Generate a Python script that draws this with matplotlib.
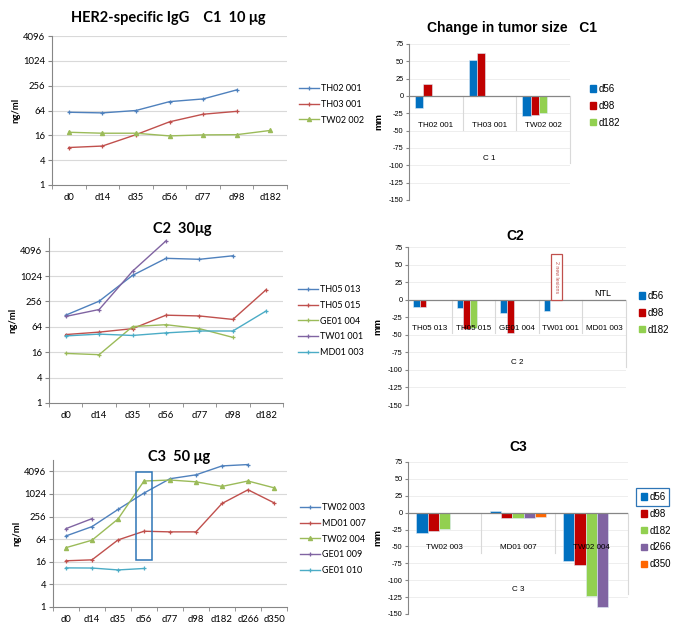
import numpy as np
import matplotlib
matplotlib.use("Agg")
import matplotlib.pyplot as plt
from matplotlib.patches import Rectangle

nan = np.nan

# ---- IgG data (ng/ml) ----
c1_days = ['d0', 'd14', 'd35', 'd56', 'd77', 'd98', 'd182']
c1_names = ['TH02 001', 'TH03 001', 'TW02 002']
c1_th02_001 = [58, 56, 64, 105, 122, 202, nan]
c1_th03_001 = [8.1, 8.8, 16.6, 34, 52, 61, nan]
c1_tw02_002 = [19, 18, 18, 15.5, 16.4, 16.6, 21]

c2_days = ['d0', 'd14', 'd35', 'd56', 'd77', 'd98', 'd182']
c2_names = ['TH05 013', 'TH05 015', 'GE01 004', 'TW01 001', 'MD01 003']
c2_th05_013 = [121, 260, 1065, 2700, 2560, 3100, nan]
c2_th05_015 = [42, 48, 58, 121, 116, 96, 490]
c2_ge01_004 = [15, 14, 65, 72, 58, 36, nan]
c2_tw01_001 = [113, 165, 1340, 7000, nan, nan, nan]
c2_md01_003 = [39, 43, 40, 46, 51, 51, 153]

c3_days = ['d0', 'd14', 'd35', 'd56', 'd77', 'd98', 'd182', 'd266', 'd350']
c3_names = ['TW02 003', 'MD01 007', 'TW02 004', 'GE01 009', 'GE01 010']
c3_tw02_003 = [78, 138, 395, 1080, 2600, 3300, 5700, 6200, nan]
c3_md01_007 = [17, 18, 61, 104, 100, 100, 570, 1320, 595]
c3_tw02_004 = [38, 60, 220, 2260, 2400, 2150, 1620, 2260, 1490]
c3_ge01_009 = [122, 225, nan, nan, nan, nan, nan, nan, nan]
c3_ge01_010 = [11, 10.9, 9.7, 10.6, nan, nan, nan, nan, nan]

# ---- tumour size change (mm) ----
visits = ['d56', 'd98', 'd182', 'd266', 'd350']
t1_pat = ['TH02 001', 'TH03 001', 'TW02 002']
t1_d56 = [-17, 52, -29]
t1_d98 = [17, 62, -27]
t1_d182 = [nan, nan, -24]

t2_pat = ['TH05 013', 'TH05 015', 'GE01 004', 'TW01 001', 'MD01 003']
t2_d56 = [-11, -12, -19, -16, nan]
t2_d98 = [-10, -42, -47, nan, nan]
t2_d182 = [nan, -40, nan, nan, nan]
t2_new_lesions = 65  # height of the "2 new lesions" marker box

t3_pat = ['TW02 003', 'MD01 007', 'TW02 004']
t3_d56 = [-29.5, 2.5, -72]
t3_d98 = [-26.5, -7.4, -78]
t3_d182 = [-23.6, -7.4, -124]
t3_d266 = [-1, -7.4, -139.5]
t3_d350 = [nan, -6, nan]

line_cols = ['#4F81BD', '#C0504D', '#9BBB59', '#8064A2', '#4BACC6']
bar_cols = ['#0070C0', '#C00000', '#92D050', '#8064A2', '#FF6600']
grid_c = '#D9D9D9'
axis_c = '#868686'
F = ['Lato', 'DejaVu Sans']
A = ['Liberation Sans', 'DejaVu Sans']

fig = plt.figure(figsize=(6.75, 6.28), dpi=100)


def W(x, y):
    return x / 675, 1 - y / 628


def line_panel(rect, days, names, series, top, title, tpos, leg_x, leg_y, markers):
    ax = fig.add_axes(rect)
    x = np.arange(len(days))
    for i, s in enumerate(series):
        ax.plot(x, s, color=line_cols[i], lw=1.0, marker=markers[i], ms=3, mew=0.9)
    ax.set_yscale('log', base=2)
    ax.set_ylim(1, top)
    ax.set_xlim(-0.5, len(days) - 0.5)
    yt = [1, 4, 16, 64, 256, 1024, 4096]
    ax.set_yticks(yt)
    ax.set_yticklabels([str(v) for v in yt], fontsize=6.8, family=F)
    ax.yaxis.set_minor_locator(matplotlib.ticker.NullLocator())
    ax.set_xticks(x)
    ax.set_xticklabels(days, fontsize=6.8, family=F)
    ax.set_xticks(np.arange(len(days) + 1) - 0.5, minor=True)
    ax.tick_params(axis='x', which='major', length=0, pad=6)
    ax.tick_params(axis='x', which='minor', length=3, color=axis_c)
    ax.tick_params(axis='y', length=3, color=axis_c, pad=2)
    for t in yt[1:]:
        ax.axhline(t, color=grid_c, lw=0.8, zorder=0)
    for s in ['top', 'right']:
        ax.spines[s].set_visible(False)
    for s in ['left', 'bottom']:
        ax.spines[s].set_color(axis_c)
        ax.spines[s].set_linewidth(0.8)
    ax.set_ylabel('ng/ml', fontsize=6.8, fontweight='bold', family=F, labelpad=2)
    fig.text(*W(*tpos), title, fontsize=10.5, fontweight='bold', family=F,
             ha='center', va='center')
    handles = ax.get_lines()
    fig.legend(handles, names, loc='upper left', bbox_to_anchor=W(leg_x, leg_y),
               frameon=False, prop={'family': F, 'size': 6.5},
               handlelength=2.2, handletextpad=0.2, labelspacing=0.75,
               borderpad=0, borderaxespad=0)
    return ax


def bar_panel(rect, pats, vals, title, tpos, lab_y, sep_y, grp, grp_y, end_y,
              leg_x, leg_y, nleg):
    ax = fig.add_axes(rect)
    x = np.arange(len(pats))
    w = 0.155
    for i, v in enumerate(vals):
        ax.bar(x + (i - 2) * w, v, width=w, color=bar_cols[i],
               edgecolor='#DDEBF7', lw=0.4, zorder=2)
    ax.set_ylim(-150, 75)
    ax.set_xlim(-0.5, len(pats) - 0.5)
    yt = np.arange(-150, 76, 25)
    ax.set_yticks(yt)
    ax.set_yticklabels([str(v) for v in yt], fontsize=5.3, family=A)
    for t in yt:
        if t != 0:
            ax.axhline(t, color='#EBEBEB', lw=0.6, zorder=0)
    ax.axhline(0, color=axis_c, lw=0.9, zorder=3)
    ax.set_xticks([])
    ax.tick_params(axis='y', length=2, color=axis_c, pad=2)
    for s in ['top', 'right', 'bottom']:
        ax.spines[s].set_visible(False)
    ax.spines['left'].set_color(axis_c)
    ax.spines['left'].set_linewidth(0.8)
    for k in range(1, len(pats)):
        ax.plot([k - 0.5, k - 0.5], [0, sep_y], color='#D9D9D9', lw=0.8, zorder=1)
    ax.plot([len(pats) - 0.5] * 2, [0, end_y], color='#D9D9D9', lw=0.8, zorder=1,
            clip_on=False)
    for k, p in enumerate(pats):
        ax.text(k, lab_y, p, fontsize=5.8, family=A, ha='center', va='center', zorder=4)
    ax.text((len(pats) - 1) / 2, grp_y, grp, fontsize=5.8, family=A,
            ha='center', va='center')
    ax.set_ylabel('mm', fontsize=6.8, fontweight='bold', family=A, labelpad=4)
    fig.text(*W(*tpos), title, fontsize=10, fontweight='bold', family=A,
             ha='center', va='center')
    handles = [Rectangle((0, 0), 1, 1, color=bar_cols[i]) for i in range(nleg)]
    fig.legend(handles, visits[:nleg], loc='upper left', bbox_to_anchor=W(leg_x, leg_y),
               frameon=False, prop={'family': A, 'size': 7},
               handlelength=0.65, handleheight=0.65, handletextpad=0.2,
               labelspacing=0.7, borderpad=0, borderaxespad=0)
    return ax


# ---- IgG panels ----
line_panel([52 / 675, 1 - 185 / 628, 235 / 675, 149 / 628], c1_days, c1_names,
           [c1_th02_001, c1_th03_001, c1_tw02_002], 4096,
           'HER2-specific IgG    C1  10 \u03bcg', (168, 18), 299, 84,
           ['+', '+', '^'])

line_panel([49 / 675, 1 - 403 / 628, 234 / 675, 165 / 628], c2_days, c2_names,
           [c2_th05_013, c2_th05_015, c2_ge01_004, c2_tw01_001, c2_md01_003], 8192,
           'C2  30\u03bcg', (182, 229), 298, 285, ['+', '+', '+', '+', '+'])

ax5 = line_panel([53 / 675, 1 - 607 / 628, 234 / 675, 147 / 628], c3_days, c3_names,
                 [c3_tw02_003, c3_md01_007, c3_tw02_004, c3_ge01_009, c3_ge01_010], 8192,
                 'C3  50 \u03bcg', (179, 457), 300, 503, ['+', '+', '^', '+', '+'])
ax5.add_patch(Rectangle((2.7, 18), 0.6, 3950, fill=False, ec='#2E75B6', lw=1.1, zorder=5))

# ---- tumour size panels ----
bar_panel([409 / 675, 1 - 200 / 628, 161 / 675, 156 / 628], t1_pat,
          [t1_d56, t1_d98, t1_d182], 'Change in tumor size   C1', (512, 28),
          -42, -49, 'C 1', -90, -97, 590, 84, 3)

ax4 = bar_panel([408 / 675, 1 - 405 / 628, 218 / 675, 158 / 628], t2_pat,
                [t2_d56, t2_d98, t2_d182], 'C2', (515, 236),
                -41, -48, 'C 2', -90, -96, 639, 291, 3)
ax4.add_patch(Rectangle((2.78, 0), 0.25, t2_new_lesions, fc='white', ec='#C0504D',
                        lw=0.9, zorder=4))
ax4.text(2.905, t2_new_lesions / 2, '2 new lesions', rotation=-90, fontsize=3.8,
         family=A, color='#C0504D', ha='center', va='center', zorder=5)
ax4.text(3.96, 9, 'NTL', fontsize=6.5, family=A, ha='center', va='center')

bar_panel([408 / 675, 1 - 614 / 628, 220 / 675, 152 / 628], t3_pat,
          [t3_d56, t3_d98, t3_d182, t3_d266, t3_d350], 'C3', (518, 447),
          -52, -60, 'C 3', -114, -121, 641, 492, 5)
fig.patches.append(Rectangle(W(636, 506), 33 / 675, 18 / 628, fill=False,
                             ec='#2E75B6', lw=0.9, transform=fig.transFigure))

fig.savefig('out.png', dpi=100)
